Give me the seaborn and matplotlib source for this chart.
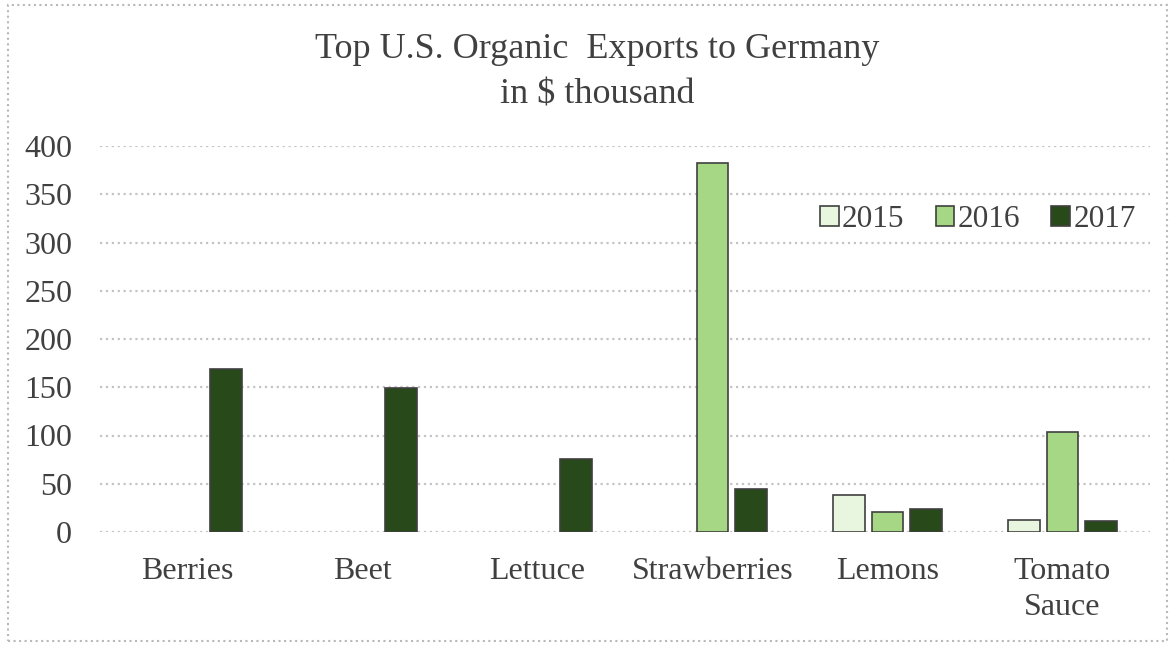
import numpy as np
import pandas as pd
import seaborn as sns
import matplotlib.pyplot as plt
from matplotlib.patches import Rectangle

sns.set_style('white')
plt.rcParams['font.family'] = ['Liberation Serif', 'DejaVu Serif']

# data (nan = no bar)
products = ['Berries', 'Beet', 'Lettuce', 'Strawberries', 'Lemons', 'Tomato\nSauce']
years = ['2015', '2016', '2017']
v2015 = [np.nan, np.nan, np.nan, np.nan, 38, 12]
v2016 = [np.nan, np.nan, np.nan, 382, 21, 104]
v2017 = [169, 149, 76, 45, 24, 11]
colors = ['#e9f6df', '#a6d785', '#284a1a']

df = pd.DataFrame({
    'product': products * 3,
    'year': [y for y in years for _ in products],
    'value': v2015 + v2016 + v2017,
})

fig = plt.figure(figsize=(11.75, 6.46), dpi=100)
ax = fig.add_axes([100 / 1175, 1 - 532 / 646, 1050 / 1175, 386 / 646])

sns.barplot(data=df, x='product', y='value', hue='year', hue_order=years,
            order=products, palette=colors, saturation=1, width=0.66, gap=0.18,
            edgecolor='#404040', linewidth=1.2, ax=ax)

ax.set_ylim(0, 400)
ax.set_yticks(range(0, 401, 50))
ax.set_xlim(-0.5, len(products) - 0.5)
ax.yaxis.grid(True, color='#c4c4c4', linestyle=':', linewidth=1.6)
ax.set_axisbelow(True)
for s in ax.spines.values():
    s.set_visible(False)
ax.tick_params(axis='both', length=0, labelsize=23, colors='#404040')
ax.tick_params(axis='y', pad=20)
ax.tick_params(axis='x', pad=18)
for t in ax.get_xticklabels():
    t.set_linespacing(1.3)
ax.set_xlabel('')
ax.set_ylabel('')

fig.text(0.508, 1 - 50 / 646, 'Top U.S. Organic  Exports to Germany', ha='center',
         va='center', fontsize=26, color='#404040')
fig.text(0.508, 1 - 95 / 646, 'in $ thousand', ha='center', va='center',
         fontsize=26, color='#404040')

leg = ax.legend(loc='upper right', bbox_to_anchor=(1.013, 0.92), ncol=3, frameon=False,
                fontsize=22.5, handlelength=0.6, handleheight=0.6, handletextpad=0.1,
                columnspacing=1.0, labelcolor='#404040')

# dotted frame round the whole image
fig.patches.append(Rectangle((8 / 1175, 5 / 646), 1 - 16 / 1175, 1 - 10 / 646,
                             transform=fig.transFigure, fill=False,
                             edgecolor='#b8b8b8', linestyle=':', linewidth=1.5))

fig.savefig('out.png', dpi=100)
